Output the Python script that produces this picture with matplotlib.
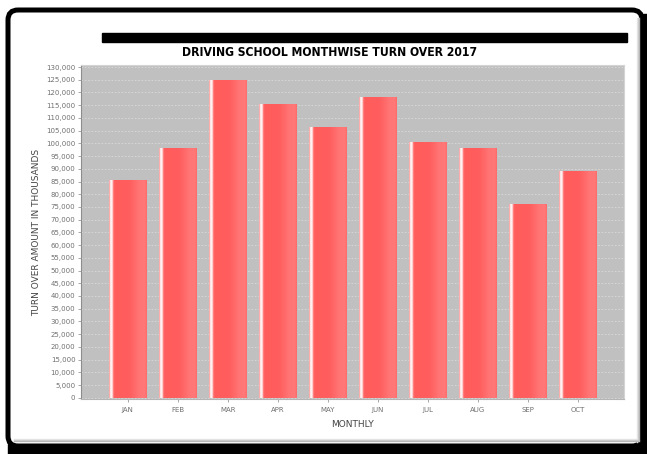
import numpy as np
import matplotlib
matplotlib.use("Agg")
import matplotlib.pyplot as plt
from matplotlib.patches import FancyBboxPatch, Rectangle
from matplotlib.colors import LinearSegmentedColormap
from matplotlib.ticker import MultipleLocator, FuncFormatter
import matplotlib.transforms as mtransforms

# turnover per month
meses = ["JAN", "FEB", "MAR", "APR", "MAY", "JUN", "JUL", "AUG", "SEP", "OCT"]
turnover = [85500, 98000, 125000, 115500, 106500, 118300, 100500, 98000, 76000, 89300]

titulo = "DRIVING SCHOOL MONTHWISE TURN OVER 2017"
etiqueta_x = "MONTHLY"
etiqueta_y = "TURN OVER AMOUNT IN THOUSANDS"

W, H = 647, 454
fig = plt.figure(figsize=(W / 100, H / 100), dpi=100)
fig.patch.set_facecolor("white")

# marco exterior con esquinas redondeadas y sombra negra
marco = fig.add_axes([0, 0, 1, 1], zorder=0)
marco.set_xlim(0, W)
marco.set_ylim(H, 0)
marco.axis("off")
marco.add_patch(Rectangle((8, 444), W - 8, 10, color="black"))
marco.add_patch(Rectangle((641, 14), 6, H - 14, color="black"))
marco.add_patch(FancyBboxPatch((8, 10), 634, 436,
                               boxstyle="round,pad=0,rounding_size=10",
                               facecolor="white", edgecolor="black", linewidth=3.6))
for k, g in enumerate(["#e8e8e8", "#d0d0d0", "#b8b8b8"]):
    marco.plot([637 + k, 637 + k], [18, 442 - k], color=g, lw=1)
    marco.plot([14, 637 + k], [439 + k, 439 + k], color=g, lw=1)
marco.add_patch(Rectangle((102, 33), 525, 9, color="black"))
marco.text(330, 52, titulo, ha="center", va="center", fontsize=8.7,
           fontweight="bold", fontstretch="condensed", family="DejaVu Sans")

ax = fig.add_axes([81 / W, 1 - 399 / H, (624 - 81) / W, (399 - 65) / H], zorder=1)
ax.set_facecolor("#c0c0c0")

x = np.arange(len(meses))
ancho = 0.75
barras = ax.bar(x, turnover, width=ancho, color="#ff5c5c", zorder=2)

# degradado horizontal de cada barra
perfil = [(0.00, (1.0, 0.55, 0.55)), (0.04, (1.0, 0.95, 0.95)),
          (0.08, (1.0, 0.95, 0.95)), (0.12, (1.0, 0.42, 0.42)),
          (0.16, (1.0, 0.36, 0.36)), (0.55, (1.0, 0.37, 0.37)),
          (0.80, (1.0, 0.46, 0.46)), (0.95, (1.0, 0.47, 0.47)),
          (1.00, (1.0, 0.41, 0.41))]
cmap = LinearSegmentedColormap.from_list("barra", perfil)
grad = np.linspace(0, 1, 256).reshape(1, -1)
for b in barras:
    x0, w, h = b.get_x(), b.get_width(), b.get_height()
    im = ax.imshow(grad, cmap=cmap, aspect="auto", extent=[x0, x0 + w, 0, h],
                   zorder=3, interpolation="bilinear")
    im.set_clip_path(b)

ax.set_xlim(-0.93, 9.92)
ax.set_ylim(-500, 130800)
ax.yaxis.set_major_locator(MultipleLocator(5000))
ax.yaxis.set_major_formatter(FuncFormatter(lambda v, p: f"{int(v):,}"))
ax.grid(axis="y", color="#dadada", linestyle=(0, (2, 2)), linewidth=0.6, zorder=1)

ax.set_xticks(x)
ax.set_xticklabels(meses)
desplaza = mtransforms.ScaledTranslation(-8.5 / 100, 0, fig.dpi_scale_trans)
for lbl in ax.get_xticklabels():
    lbl.set_transform(lbl.get_transform() + desplaza)

ax.tick_params(axis="both", labelsize=5, colors="#999999", labelcolor="#707070",
               length=2, width=0.6)
ax.tick_params(axis="x", pad=4)
ax.tick_params(axis="y", pad=2)
for s in ["top", "right"]:
    ax.spines[s].set_color("#d4d4d4")
ax.spines["left"].set_color("#8c8c8c")
ax.spines["bottom"].set_color("#b4b4b4")
for s in ax.spines.values():
    s.set_linewidth(0.8)

ax.set_xlabel(etiqueta_x, fontsize=6.5, color="#444444", labelpad=5)
ax.set_ylabel(etiqueta_y, fontsize=6.5, color="#444444", labelpad=4)

fig.savefig("out.png", dpi=100)
